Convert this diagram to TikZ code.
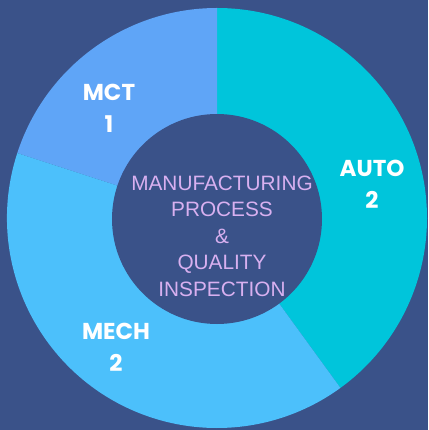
\documentclass[tikz,border=0pt]{standalone}
\usepackage{fontspec}
\setmainfont{Liberation Sans}
\newfontfamily\labelfont{Poppins}[UprightFont=* Bold]
\definecolor{bgblue}{HTML}{3A5289}
\definecolor{autocyan}{HTML}{00C5DB}
\definecolor{mctblue}{HTML}{5FA5F7}
\definecolor{mechblue}{HTML}{4CC0FB}
\definecolor{lavender}{HTML}{D8B0F0}
\tikzset{
  slicelabel/.style={text=white,align=center,font=\labelfont\fontsize{23}{32}\selectfont},
  hubtext/.style={text=lavender,align=center,font=\fontsize{20.8}{26.5}\selectfont}
}
\begin{document}
\begin{tikzpicture}[x=1pt,y=1pt,line join=round]
  \fill[bgblue] (-217,-212) rectangle (211,218);
  \useasboundingbox (-217,-212) rectangle (211,218);
  % slices: AUTO 2, MCT 1, MECH 2
  \fill[autocyan] (0,0) -- (90:210) arc[start angle=90,end angle=-54,radius=210] -- cycle;
  \fill[mctblue] (0,0) -- (90:210) arc[start angle=90,end angle=162,radius=210] -- cycle;
  \fill[mechblue] (0,0) -- (162:210) arc[start angle=162,end angle=306,radius=210] -- cycle;
  \fill[bgblue] (0,-1) circle[radius=105];
  \node[hubtext] (hub) at (5,-18) {MANUFACTURING\\PROCESS\\\&\\QUALITY\\INSPECTION};
  \node[slicelabel] (mct) at (-108,110) {MCT\\1};
  \node[slicelabel] (auto) at (155,34) {AUTO\\2};
  \node[slicelabel] (mech) at (-101,-129) {MECH\\2};
\end{tikzpicture}
\end{document}
